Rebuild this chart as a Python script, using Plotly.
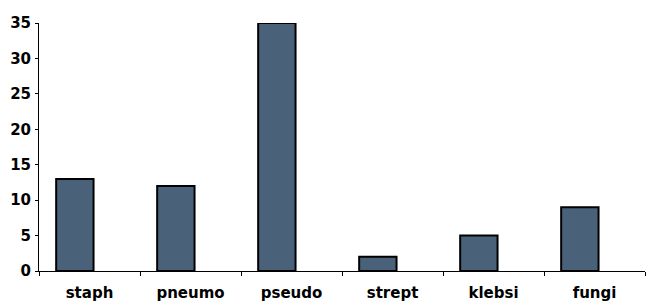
import plotly.graph_objects as go

categories = ["staph", "pneumo", "pseudo", "strept", "klebsi", "fungi"]
values = [13, 12, 35, 2, 5, 9]
y_ticks = [0, 5, 10, 15, 20, 25, 30, 35]

fig = go.Figure(go.Bar(
    x=categories, y=values,
    offset=-0.33, width=0.37,
    marker=dict(color="#4a6279", line=dict(color="black", width=2)),
))

tickfont = dict(family="DejaVu Sans", size=15, color="black", weight="bold")
fig.update_layout(
    width=646, height=302,
    margin=dict(l=39, r=1, t=23, b=31),
    paper_bgcolor="white", plot_bgcolor="white",
    showlegend=False,
    font=tickfont,
    xaxis=dict(
        range=[-0.5, 5.5], showline=True, linecolor="black", linewidth=1,
        ticks="outside", tickson="boundaries", ticklen=4, tickcolor="black",
        showgrid=False, tickfont=tickfont, ticklabelstandoff=8,
        automargin=False,
    ),
    yaxis=dict(
        range=[0, 35], tickvals=y_ticks, showline=True, linecolor="black", linewidth=1,
        ticks="outside", ticklen=3, tickcolor="black", showgrid=False, zeroline=False,
        tickfont=tickfont, ticklabelstandoff=1, automargin=False,
    ),
)

fig.write_html(
    "out.html",
    config={"displayModeBar": False},
    post_script="document.body.style.margin='0';document.body.style.padding='0';",
)
